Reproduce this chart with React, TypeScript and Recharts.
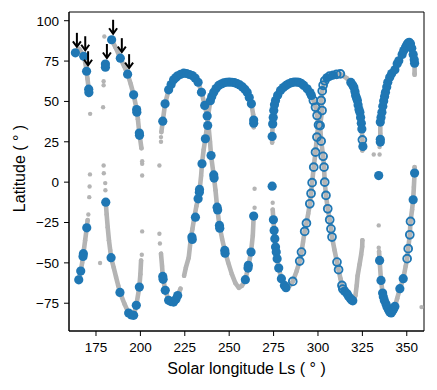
import { ScatterChart, Scatter, XAxis, YAxis, Label, ReferenceArea } from 'recharts'

const BLUE = '#1f77b4'
const GREY = '#b4b4b4'
const FONT = '"Liberation Sans", Arial, sans-serif'

type Pt = [number, number]

const xTicks = [175, 200, 225, 250, 275, 300, 325, 350]
const yTicks = [-75, -50, -25, 0, 25, 50, 75, 100]

// dense grey tracks (Ls, latitude)
const trackA: Pt[] = [[163.4, 80.1], [165.6, 82.5], [168.1, 78], [169, 74], [169.7, 68.7], [170.2, 64], [170.9, 57.6], [171, 54]]
const trackB: Pt[] = [[165.3, -60.5], [166.4, -55.1], [167.2, -50], [167.9, -44.3], [168.9, -36], [169.8, -28.3], [170.3, -23.5]]
const trackC: Pt[] = [[180.5, -12.4], [181, -20], [181.6, -28], [182.3, -36], [183, -42], [183.5, -46.8], [185, -53], [186.3, -58.8], [187.5, -64], [188.5, -68.3], [191, -75.3], [193.4, -81.1], [196.2, -82.5], [197.7, -76.3], [199.4, -65], [200, -57], [200.4, -48.5]]
const trackD: Pt[] = [[200.6, 21], [199.4, 30.4], [198.6, 39], [197.9, 45], [196.2, 54.1], [194.5, 61], [192.8, 66.9], [190.8, 72], [188.7, 76.8], [186.2, 83], [183.8, 88.2]]
const trackE: Pt[] = [[211.8, 31], [212.6, 37.8], [213.9, 48.5], [215.9, 57.2], [218.7, 63.4], [221, 65.9], [224.4, 67.5], [227.6, 66.7], [230, 65], [232.5, 61.9], [234.5, 55.7], [236.2, 47.5], [237.7, 40.7], [238.5, 33], [239.2, 25], [239.8, 16.5], [241.3, 4], [242.3, -5], [243.2, -15.5], [244.5, -26.8], [246, -35], [247.5, -42.3], [249.5, -50], [251.5, -57], [253.5, -62.5], [255.4, -65.4], [257.3, -64], [259.1, -60.4], [260.6, -53.2], [262.3, -43.3], [263.3, -33], [263.8, -21]]
const trackF: Pt[] = [[211.6, -44.3], [212.2, -52], [212.6, -58.4], [214, -67], [215.9, -73.2], [218.7, -74.3], [221, -70.2], [222.6, -66]]
const trackG: Pt[] = [[224.6, -58], [225.6, -53], [227.2, -46.8], [228.5, -34], [229.3, -29], [230.4, -21.7], [231.5, -15], [232.5, -10.3], [233.2, -6.2], [234.2, 4], [234.7, 11.4], [235.6, 20], [236.6, 26.9], [237.6, 35.5], [238.5, 44], [239.4, 50.5], [241.3, 55.7], [244.1, 59.9], [246.5, 61.5], [249.7, 61.9], [252.5, 61.6], [255.4, 60.5], [258, 58.4], [260.1, 55.7], [262.5, 48.5], [263.5, 42], [263.8, 34]]
const trackH: Pt[] = [[274.5, -17], [274.9, -23.3], [275.3, -29.9], [276.1, -40.2], [277, -47.4], [277.9, -53.2], [279.4, -59.8], [281.1, -64], [282, -65.4], [284, -64.2], [285.8, -61.5], [288, -55], [289.7, -48.9], [290.7, -43.3], [291.6, -37], [292.5, -30.5], [293.5, -25.4], [294.5, -19.5], [295.4, -13.4], [296.1, -7], [296.7, -0.3], [297.6, 9.3], [298.6, 18.6], [299.4, 27.9], [300.2, 35.4], [299.6, 41.3], [298.7, 46.4], [297.5, 50.6], [296.3, 53.7], [293.9, 57.8], [291, 60.5], [288, 62], [285, 61.6], [282, 59.9], [278.9, 56.8], [276.1, 50.6], [275.1, 44.4], [274.5, 36.1], [274.2, 27.9], [274.2, 24.5]]
const trackI: Pt[] = [[325, 19.6], [325.3, 22.1], [325, 26.2], [324.4, 36.5], [323.6, 43.3], [322.2, 50.6], [321.2, 53.7], [320.2, 58.8], [318.5, 61.8], [316.4, 64.2], [312.6, 67.1], [308.9, 66.2], [306, 65.5], [303.6, 62.5], [302.4, 56.5], [301.9, 50.6], [302.3, 44.4], [301.2, 35], [301.8, 25.4], [302.9, 16], [303.4, 9.3], [303.8, 0], [304.5, -8.2], [305.5, -16.5], [306.6, -23.3], [307.3, -28.9], [307.9, -34], [309.3, -42], [310.7, -49.5], [311.6, -54.2], [312.6, -59.5], [313.5, -64], [314.5, -66.5], [316.4, -69.1], [318.3, -72.2], [319.3, -73.5], [320.4, -72], [321.1, -70.2], [321.8, -64], [322.3, -58], [323.4, -51], [324.3, -45], [324.9, -40], [325, -36]]
const trackJ: Pt[] = [[335.1, 24.8], [335.1, 30], [335.1, 37.2], [336, 43.3], [337, 50.2], [338, 55.7], [339.3, 61.9], [340.4, 65], [342, 67.5], [343.3, 69.6], [344.6, 73.3], [346, 76.2], [347.4, 79.1], [349.3, 83.6], [350.6, 86.1], [351.5, 87], [352.1, 85.7], [353, 82], [353.6, 79.1], [354.4, 73.7], [354.4, 66.5]]
const trackK: Pt[] = [[334.4, -43], [334.7, -48.5], [335.5, -60.9], [336.4, -68.7], [337.4, -73.3], [338.9, -77.4], [340.4, -80.5], [341.4, -79.4], [343.3, -77], [344.6, -72], [346.1, -66], [348, -59.8], [349.4, -52], [350.2, -47.4], [350.8, -41.2], [351.7, -32.6], [352.1, -24.3], [353, -17], [353.6, -10.9], [354, -3], [354.4, 5.6], [354.4, 9.3]]

const greyTracks = [trackA, trackB, trackC, trackD, trackE, trackF, trackG, trackH, trackI, trackJ, trackK]

// isolated grey observations
const greyDots: Pt[] = [[171.7, 42.3], [170.7, -20], [171.2, -9.3], [171.4, -2.7], [171.6, 4.8], [179.7, 90.2], [179.3, 60], [179.3, 62.5], [179, 46.4], [179.3, 10.3], [179.4, 5.5], [180.2, -0.6], [180.3, -5], [177.3, -50.1], [201, -30.5], [200.8, -45], [201, 4.1], [201, 11.4], [201, 13], [210.7, 10.3], [211.6, 25], [211.6, 27.9], [210.7, -32], [211, -38], [264.3, -15.9], [264.3, -4.1], [274.5, -12.8], [331.4, 17.1], [334.7, 17.1], [334.7, 21.7], [334.2, -26.8], [334.2, -40.6], [358.3, -77.4], [354.4, 67.5]]

// selected observations (filled)
const bluePts: Pt[] = [
  [163.4, 80.1], [168.1, 78], [169.7, 68.7], [170.9, 57.6], [171, 55.5], [169.8, -28.3], [167.9, -44.3], [167.7, -46], [166.4, -55.1], [165.3, -60.5],
  [180.3, 71.2], [180.3, 73.2], [183.8, 88.2], [188.7, 76.8], [192.8, 66.9], [196.2, 54.1], [197.9, 45], [198, 43.3], [199.4, 30.4], [199.5, 29],
  [180.5, -12.4], [183.5, -46.8], [188.5, -68.3], [193.4, -81.1], [195, -82.3], [196.2, -82.5], [197.7, -76.3], [199.4, -65],
  [212.6, 37.8], [213.9, 48.5], [215.9, 57.2], [217.3, 60.5], [218.7, 63.4], [220, 64.8], [221, 65.9], [222.7, 66.8], [224.4, 67.5], [226, 67.3], [227.6, 66.7], [229.2, 66], [230.8, 64.5], [232.5, 61.9], [234.4, 55.7], [236.2, 47.5], [237.6, 41], [237.9, 35.1], [236.6, 26.9], [239.8, 16.5], [234.7, 11.4], [241.3, 4.5], [241.5, 2.5],
  [243.2, -15.5], [243.5, -17.2], [244.5, -26.8], [244.7, -28.5], [247.5, -42.3], [247.7, -44], [259.1, -60.4], [260.6, -53.2], [260.8, -51.5], [262.3, -43.3], [263.8, -21],
  [212.6, -58.4], [212.8, -60.2], [214, -67], [215.9, -73.2], [217.2, -74], [218.7, -74.3], [220, -72.5], [221, -70.2],
  [229, -34], [229.2, -35.5], [231, -21.7], [232.5, -10.3], [233.2, -6.2], [233.3, -4.5],
  [239.4, 50.5], [240.2, 53], [241.3, 55.7], [242.6, 58], [244.1, 59.9], [245.5, 60.8], [247, 61.5], [248.5, 61.9], [250, 62], [251.5, 61.9], [253, 61.6], [254.5, 61], [256, 60.2], [257.5, 59], [258.8, 57.5], [260.1, 55.7], [261.3, 52.5], [262.5, 48.5], [263.8, 36.5], [263.8, 38.5],
  [274.2, -2.5], [274.9, -23.3], [275.3, -29.9], [275.7, -35], [276.1, -40.2], [276.5, -43.3], [277, -47.4], [277.9, -53.2], [279.4, -59.8], [281.1, -64], [282, -65.4],
  [274.2, 28.3], [274.5, 36.1], [274.8, 40], [275.1, 44.4], [275.5, 48], [276.1, 50.6], [277.3, 53.8], [278.9, 56.8], [280.5, 58.6], [282, 59.9], [283.5, 60.9], [285, 61.6], [286.5, 62], [288, 62], [289.2, 61.9], [290.5, 61.2], [292, 59.9], [293.9, 57.8], [295.5, 55.5], [296.3, 53.7],
  [305, 64.6], [308.5, 66.3],
  [318.5, 61.8], [319.5, 60.2], [320.2, 58.8], [320.8, 56.2], [321.2, 53.7], [321.7, 52.2], [322.2, 50.6], [322.6, 47.8], [323.1, 45], [323.6, 43.3], [324, 40], [324.4, 36.5], [324.7, 33], [325.3, 22.1],
  [315, -67.5], [316.4, -69.1], [317.2, -70.6], [318.3, -72.2], [319, -73], [319.6, -73.5],
  [334.2, 4.1], [335.1, 24.8], [335.1, 26.5], [335.1, 37.2], [335.5, 40], [336, 43.3], [336.5, 47], [337, 50.2], [337.5, 53], [338, 55.7], [338.7, 59], [339.3, 61.9], [340.4, 65], [341.5, 67.3], [343.3, 69.6], [344.6, 73.3], [345.5, 75.2], [347.4, 79.1], [348.3, 81.5], [349.3, 83.6], [350, 85], [350.6, 86.1], [351.4, 86.6], [352.1, 85.7], [352.8, 83], [353.6, 79.1], [354.2, 75.8], [354.4, 73.7],
  [334.7, -48.5], [335.5, -60.9], [336.4, -68.7], [336.8, -71], [337.4, -73.3], [338.3, -75.5], [338.9, -77.4], [339.7, -79], [340.4, -80.5], [341.2, -81], [341.9, -79.8], [342.6, -78.5], [343.3, -77], [346.1, -66], [348, -59.8], [353.6, -10.9], [354.4, 5.6],
]

// selected observations (open rings)
const ringPts: Pt[] = [
  [285.8, -61.5], [289.7, -48.9], [290.7, -43.3], [292.5, -30.5], [293.5, -25.4], [295.4, -13.4], [296.1, -7], [296.7, -0.3], [297.6, 9.3], [298.6, 18.6], [299.4, 27.9], [300.3, 35.4], [299.5, 41.3], [298.6, 46.4], [297.4, 50.6],
  [301.8, 50.6], [302.3, 44.4], [301.2, 35], [301.8, 25.4], [302.9, 16], [303.4, 9.3], [303.8, 0], [304.5, -8.2], [305.5, -16.5], [306.6, -23.3], [307.3, -28.9], [307.9, -34], [310.7, -49.5], [311.6, -54.2], [313.5, -64], [314, -66.2],
  [302.4, 56.5], [302.9, 60], [303.8, 62.8], [306.5, 65.7], [310.5, 66.8], [312.6, 67.1], [325, 26.2],
  [350.2, -47.4], [350.8, -41.2], [351.7, -32.6], [352.1, -24.3],
]

// observations marked with an arrow
const arrowPts: Pt[] = [[163.4, 80.1], [168.1, 78], [169.7, 68.7], [180.3, 73.2], [183.8, 88.2], [188.7, 76.8], [192.8, 66.9]]

const toData = (pts: Pt[]) => pts.map(([x, y]) => ({ x, y }))
const fmt = (v: number) => (v < 0 ? `\u2212${Math.abs(v)}` : `${v}`)

const GreyDot = (p: any) => <circle cx={p.cx} cy={p.cy} r={2.2} fill={GREY} />
const BlueDot = (p: any) => <circle cx={p.cx} cy={p.cy} r={4.6} fill={BLUE} />
const Ring = (p: any) => <circle cx={p.cx} cy={p.cy} r={3.9} fill="none" stroke={BLUE} strokeWidth={1.9} />
const Arrow = (p: any) => {
  const x = p.cx + 1.5
  const tip = p.cy - 6
  const tail = p.cy - 20
  return (
    <g stroke="#000" strokeWidth={2} fill="none" strokeLinejoin="miter">
      <line x1={x} y1={tail} x2={x} y2={tip - 1} />
      <path d={`M${x - 4},${tip - 5.5} L${x},${tip} L${x + 4},${tip - 5.5}`} />
    </g>
  )
}

export default function App() {
  const tick = { fill: '#000', fontSize: 13.5, fontFamily: FONT }
  const labelStyle = { fontSize: 16, fontFamily: FONT, fill: '#000' }
  return (
    <div style={{ position: 'absolute', left: 0, top: 0, background: '#fff' }}>
      <ScatterChart width={437} height={390} margin={{ top: 12, right: 13, bottom: 0, left: 0 }}>
        <XAxis
          type="number"
          dataKey="x"
          domain={[159.8, 359.7]}
          ticks={xTicks}
          allowDataOverflow
          height={59}
          tickSize={5}
          tickMargin={6}
          stroke="#000"
          tick={tick}
        >
          <Label value="Solar longitude Ls ( ° )" position="insideBottom" offset={16} style={labelStyle} />
        </XAxis>
        <YAxis
          type="number"
          dataKey="y"
          domain={[-92.2, 105.4]}
          ticks={yTicks}
          allowDataOverflow
          width={69}
          tickSize={5}
          tickMargin={5}
          stroke="#000"
          tick={tick}
          tickFormatter={fmt}
        >
          <Label value="Latitude ( ° )" angle={-90} position="insideLeft" offset={19} dy={-3} style={{ ...labelStyle, textAnchor: 'middle' }} />
        </YAxis>
        <ReferenceArea x1={159.8} x2={359.7} y1={-92.2} y2={105.4} fill="none" stroke="#000" strokeWidth={1} />
        {greyTracks.map((t, i) => (
          <Scatter
            key={`track-${i}`}
            data={toData(t)}
            fill={GREY}
            shape={GreyDot}
            line={{ stroke: GREY, strokeWidth: 4.6, strokeLinecap: 'round', strokeLinejoin: 'round' }}
            isAnimationActive={false}
          />
        ))}
        <Scatter data={toData(greyDots)} fill={GREY} shape={GreyDot} isAnimationActive={false} />
        <Scatter data={toData(bluePts)} fill={BLUE} shape={BlueDot} isAnimationActive={false} />
        <Scatter data={toData(ringPts)} fill={BLUE} shape={Ring} isAnimationActive={false} />
        <Scatter data={toData(arrowPts)} fill="#000" shape={Arrow} isAnimationActive={false} />
      </ScatterChart>
    </div>
  )
}
